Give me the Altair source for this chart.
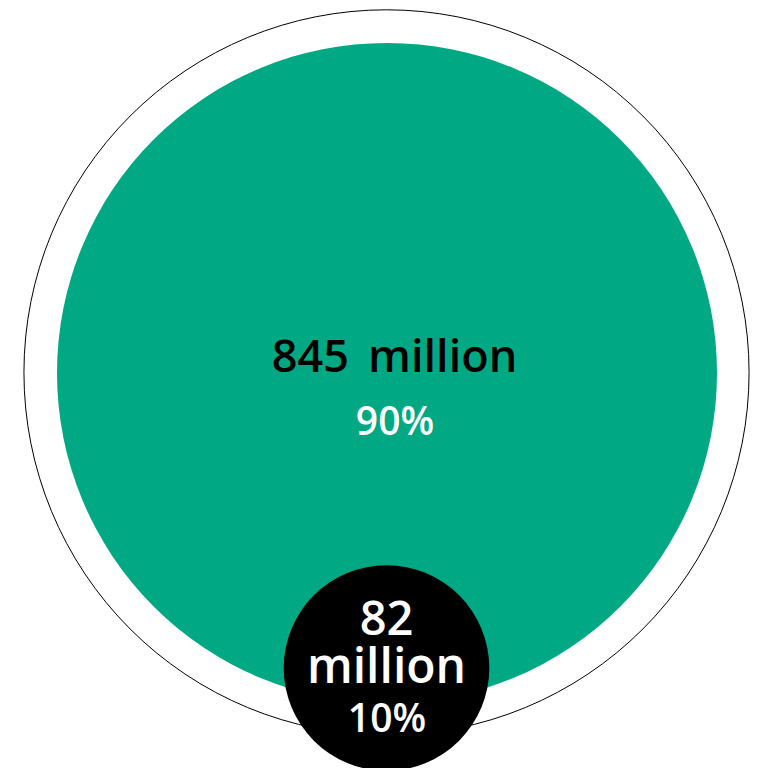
import altair as alt
import pandas as pd

# Data
categories = ["Rest", "Group"]
values_million = [845, 82]
shares = ["90%", "10%"]
reference_total = 1020  # outline circle reference (approx.)

W, H = 742, 760
D_MAIN = 660  # diameter (px) of largest filled circle
size_max = D_MAIN ** 2  # vega circle symbol: size = diameter^2

# layout (view coordinates)
layout_x = [379, 378.5]
layout_y = [365, 660]

circles = pd.DataFrame({
    "cat": categories,
    "value": values_million,
    "x": layout_x,
    "y": layout_y,
})
outline = pd.DataFrame({"value": [reference_total], "x": [378.5], "y": [364.5]})

xs = alt.Scale(domain=[0, W])
ys = alt.Scale(domain=[0, H], reverse=True)
ss = alt.Scale(domain=[0, values_million[0]], range=[0, size_max], zero=True)

base_x = alt.X("x:Q", scale=xs, axis=None)
base_y = alt.Y("y:Q", scale=ys, axis=None)

outer = alt.Chart(outline).mark_point(
    shape="circle", filled=False, stroke="black", strokeWidth=1, opacity=1
).encode(x=base_x, y=base_y, size=alt.Size("value:Q", scale=ss, legend=None))

filled = alt.Chart(circles).mark_circle(opacity=1).encode(
    x=base_x, y=base_y,
    size=alt.Size("value:Q", scale=ss, legend=None),
    color=alt.Color("cat:N", scale=alt.Scale(domain=categories, range=["#00a884", "#000000"]), legend=None),
)

labels = pd.DataFrame({
    "text": [f"{values_million[0]}\u00a0\u2009million", shares[0], f"{values_million[1]}", "million", shares[1]],
    "x": [386.5, 387, 378.5, 378.5, 379],
    "y": [364, 427, 627, 675, 724],
    "size": [45, 39, 47, 48, 39],
    "weight": [600, 600, 600, 600, 600],
    "color": ["black", "white", "white", "white", "white"],
})

texts = []
for _, r in labels.iterrows():
    texts.append(
        alt.Chart(pd.DataFrame([r])).mark_text(
            font="Open Sans", fontWeight=int(r["weight"]), fontSize=int(r["size"]), color=r["color"],
            baseline="alphabetic", align="center"
        ).encode(x=base_x, y=base_y, text="text:N")
    )

chart = alt.layer(outer, filled, *texts).properties(
    width=W, height=H, autosize=alt.AutoSizeParams(type="none"), padding=0
).configure_view(stroke=None)

chart.save("out.html", embed_options={"renderer": "svg", "actions": False})
